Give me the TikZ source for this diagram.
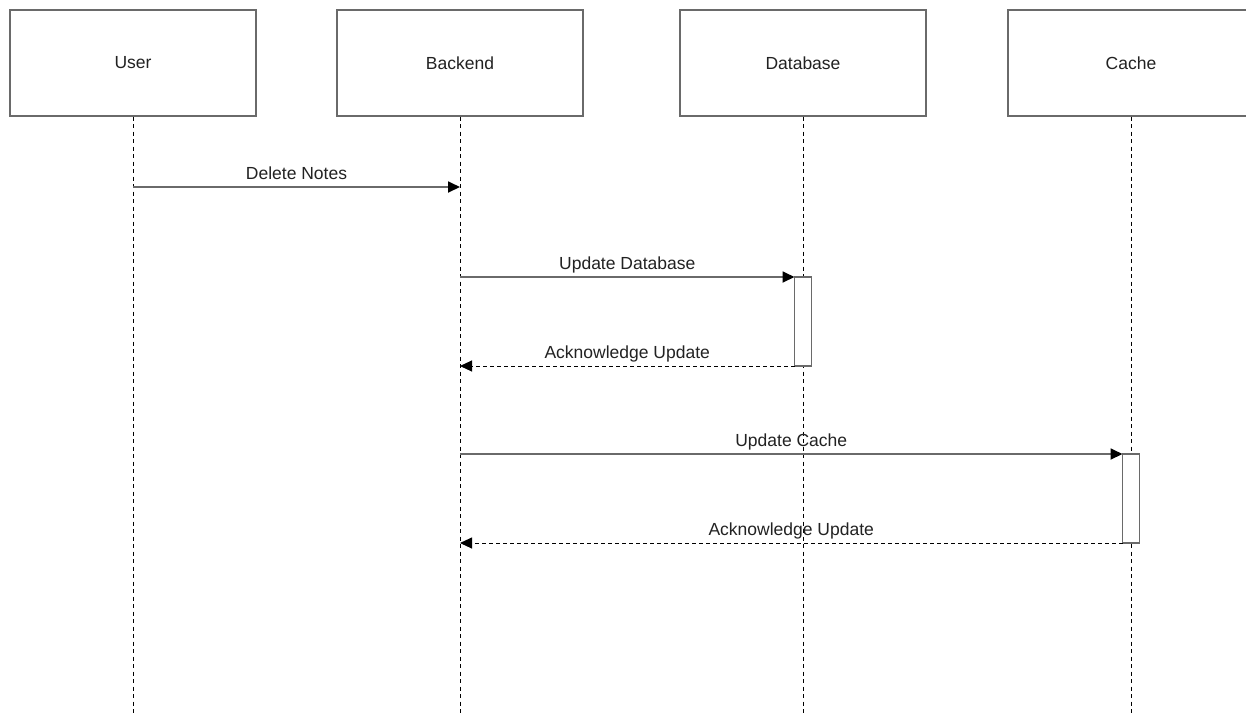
\documentclass[tikz,border=0pt]{standalone}
\usepackage{fontspec}
\setmainfont{Liberation Sans}
\usetikzlibrary{arrows.meta}
\definecolor{ln}{HTML}{6A6A6A}
\definecolor{tx}{HTML}{222222}
\tikzset{
  actor/.style={draw=ln, line width=1.3pt, fill=white, minimum width=246pt, minimum height=106pt, inner sep=0pt, text=tx, font=\fontsize{17.5pt}{20pt}\selectfont},
  life/.style={draw=black, line width=1pt, dash pattern=on 4pt off 3.5pt},
  act/.style={draw=ln, line width=1.5pt, fill=white, minimum width=17pt, minimum height=89pt, inner sep=0pt, outer sep=0pt},
  msg/.style={draw=ln, line width=1.8pt, -{Triangle[length=12pt,width=11pt,fill=black,color=black]}},
  ret/.style={draw=black, line width=1pt, dash pattern=on 3.5pt off 3.5pt, -{Triangle[length=12pt,width=11pt,fill=black,color=black]}},
  lbl/.style={text=tx, font=\fontsize{17.5pt}{20pt}\selectfont, inner sep=0pt, anchor=base}
}
\begin{document}
\begin{tikzpicture}[x=1pt,y=-1pt]
\useasboundingbox (0,0) rectangle (1246,713);
\fill[white] (0,0) rectangle (1246,713);
% lifeline bottoms
\coordinate (ue) at (133,713);
\coordinate (be) at (460,713);
\coordinate (de) at (803,713);
\coordinate (ce) at (1131,713);
% actors
\node[actor] (user) at (133,63) {User};
\node[actor] (back) at (460,63) {Backend};
\node[actor] (db) at (803,63) {Database};
\node[actor] (cache) at (1131,63) {Cache};
% lifelines
\draw[life] (user.south) -- (ue);
\draw[life] (back.south) -- (be);
\draw[life] (db.south) -- (de);
\draw[life] (cache.south) -- (ce);
% activations
\node[act] (dbact) at (803,321.5) {};
\node[act] (cact) at (1131,498.5) {};
% message points
\coordinate (u1) at (133,187);
\coordinate (b1) at (460,187);
\coordinate (b2) at (460,277);
\coordinate (b3) at (460,366);
\coordinate (b4) at (460,454);
\coordinate (b5) at (460,543);
% messages
\draw[msg] (u1) -- (b1) node[lbl, pos=0.5, yshift=8pt] (l1) {Delete Notes};
\draw[msg] (b2) -- (dbact.north west) node[lbl, pos=0.5, yshift=8pt] (l2) {Update Database};
\draw[ret] (dbact.south west) -- (b3) node[lbl, pos=0.5, yshift=8pt] (l3) {Acknowledge Update};
\draw[msg] (b4) -- (cact.north west) node[lbl, pos=0.5, yshift=8pt] (l4) {Update Cache};
\draw[ret] (cact.south west) -- (b5) node[lbl, pos=0.5, yshift=8pt] (l5) {Acknowledge Update};
\end{tikzpicture}
\end{document}
